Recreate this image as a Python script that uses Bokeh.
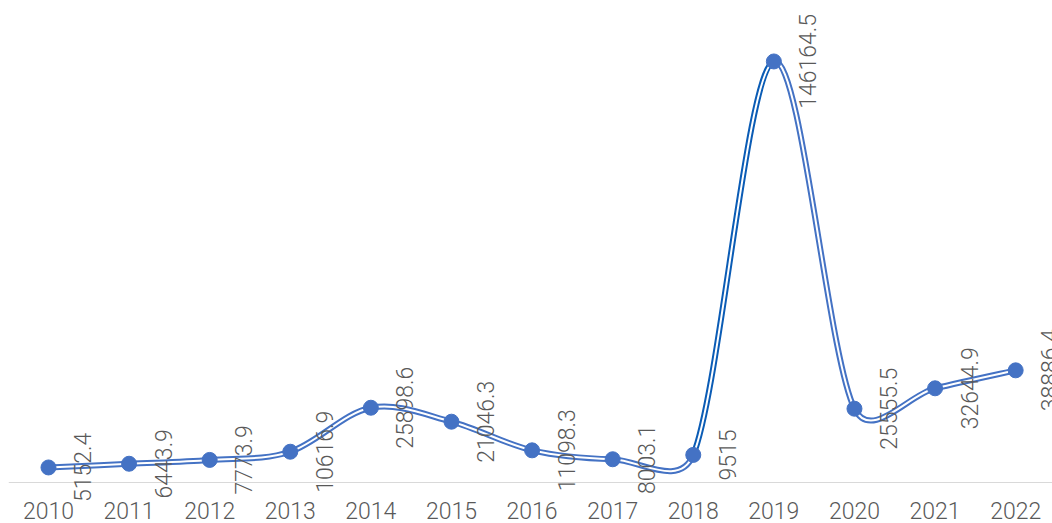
import numpy as np
from bokeh.plotting import figure
from bokeh.models import ColumnDataSource, Range1d, FixedTicker, LabelSet
from bokeh.core.properties import value
from bokeh.embed import file_html
from bokeh.resources import INLINE

years = [2010, 2011, 2012, 2013, 2014, 2015, 2016, 2017, 2018, 2019, 2020, 2021, 2022]
values = [5152.4, 6443.9, 7773.9, 10616.9, 25898.6, 21046.3, 11098.3, 8003.1, 9515.0,
          146164.5, 25555.5, 32644.9, 38886.4]
labels = ["5152.4", "6443.9", "7773.9", "10616.9", "25898.6", "21046.3", "11098.3",
          "8003.1", "9515", "146164.5", "25555.5", "32644.9", "38886.4"]

LINE = "#4472c4"
DARK = "#0b5cb5"
GRAY = "#595959"
FONT = "Roboto Light, Roboto"

W, H = 1052, 523
ML, MT, MB = 8, 8, 0
X0, X1 = 2009.504, 2022.457
Y0, Y1 = -14310, 164557

p = figure(width=W, height=H, output_backend="svg", toolbar_location=None,
           x_range=Range1d(X0, X1), y_range=Range1d(Y0, Y1),
           y_axis_location=None, min_border_left=ML, min_border_right=0,
           min_border_top=MT, min_border_bottom=MB)
p.outline_line_color = None
p.xgrid.visible = False
p.ygrid.visible = False
p.background_fill_color = "white"
p.border_fill_color = "white"

ax = p.xaxis[0]
ax.fixed_location = 0
ax.ticker = FixedTicker(ticks=years)
ax.axis_line_color = "#d9d9d9"
ax.axis_line_width = 1
ax.major_tick_line_color = None
ax.minor_tick_line_color = None
ax.major_label_text_font = FONT
ax.major_label_text_font_size = "23px"
ax.major_label_text_color = GRAY
ax.major_label_standoff = 14

# smoothed Bezier segments (Catmull-Rom tangents, clamped in screen space)
fw, fh = W - ML, H - MT - MB
sx = fw / (X1 - X0)
sy = fh / (Y1 - Y0)
px = (np.array(years, float) - X0) * sx
py = (np.array(values, float) - Y0) * sy
n = len(px)
P = np.stack([px, py], axis=1)
cin = np.zeros_like(P)
cout = np.zeros_like(P)
CL = 0.45
for i in range(n):
    a = P[max(i - 1, 0)]
    b = P[min(i + 1, n - 1)]
    T = (b - a) / 6.0
    tl = np.hypot(*T)
    d_prev = np.hypot(*(P[i] - P[i - 1])) if i > 0 else 0.0
    d_next = np.hypot(*(P[i + 1] - P[i])) if i < n - 1 else 0.0
    tin = T if tl <= CL * d_prev or tl == 0 else T / tl * CL * d_prev
    tout = T if tl <= CL * d_next or tl == 0 else T / tl * CL * d_next
    cin[i] = P[i] - tin
    cout[i] = P[i] + tout

def dx(v):
    return v / sx + X0

def dy(v):
    return v / sy + Y0

seg = ColumnDataSource(dict(
    x0=dx(px[:-1]), y0=dy(py[:-1]), x1=dx(px[1:]), y1=dy(py[1:]),
    cx0=dx(cout[:-1, 0]), cy0=dy(cout[:-1, 1]),
    cx1=dx(cin[1:, 0]), cy1=dy(cin[1:, 1]),
    c=[DARK if yr == 2018 else LINE for yr in years[:-1]]))
kw = dict(x0="x0", y0="y0", x1="x1", y1="y1", cx0="cx0", cy0="cy0",
          cx1="cx1", cy1="cy1", source=seg)
p.bezier(line_color="c", line_width=6, line_cap="round", **kw)
p.bezier(line_color="white", line_width=2, line_cap="round", **kw)

pts = ColumnDataSource(dict(x=years, y=values, t=labels))
p.scatter(x="x", y="y", source=pts, size=15, fill_color=LINE, line_color=LINE)
lab = LabelSet(x="x", y="y", text="t", source=pts, angle=np.pi / 2, x_offset=34,
               text_align="center", text_baseline="middle", text_font=value(FONT),
               text_font_size=value("23px"), text_color=value(GRAY))
p.add_layout(lab)

open("out.html", "w").write(file_html(p, INLINE))
